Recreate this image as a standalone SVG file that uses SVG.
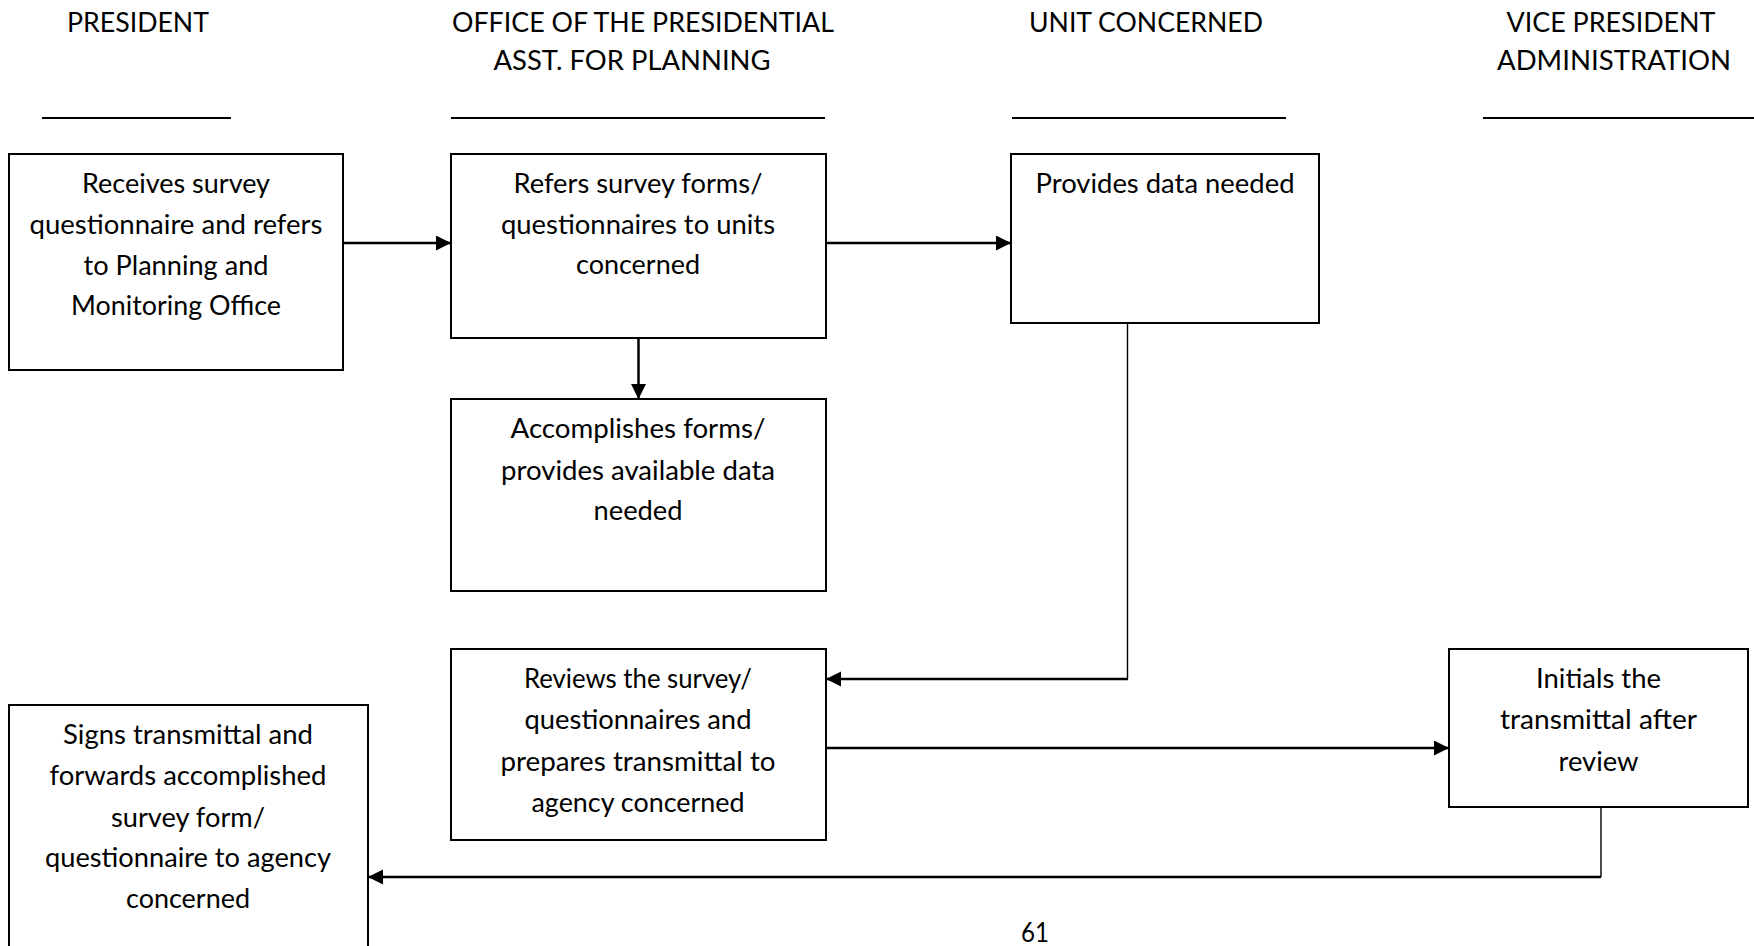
<svg xmlns="http://www.w3.org/2000/svg" width="1754" height="946" viewBox="0 0 1754 946">
  <style>
    .bg { fill: #ffffff; }
    .box { fill: #ffffff; stroke: #000000; stroke-width: 2; }
    .rule { stroke: #000000; stroke-width: 2; }
    .lbl { font-family: "Lato", "Open Sans", sans-serif; font-size: 27px; fill: #000000; text-anchor: middle; }
    .flow { fill: none; stroke: #000000; stroke-width: 2.5; }
    .thin { fill: none; stroke: #000000; stroke-width: 1.4; }
  </style>
  <defs>
    <marker id="arrow" markerUnits="userSpaceOnUse" markerWidth="16" markerHeight="16" refX="15" refY="7.5" orient="auto">
      <path d="M0,0 L15,7.5 L0,15 z" fill="#000000"/>
    </marker>
  </defs>

  <rect class="bg" x="0" y="0" width="1754" height="946"/>

  <!-- column headings -->
  <g id="headers">
    <text class="lbl" x="138" y="32" textLength="142" lengthAdjust="spacingAndGlyphs">PRESIDENT</text>
    <line class="rule" x1="42" y1="118" x2="231" y2="118"/>
    <text class="lbl" x="643" y="32" textLength="382" lengthAdjust="spacingAndGlyphs">OFFICE OF THE PRESIDENTIAL</text>
    <text class="lbl" x="632" y="70" textLength="277" lengthAdjust="spacingAndGlyphs">ASST. FOR PLANNING</text>
    <line class="rule" x1="451" y1="118" x2="825" y2="118"/>
    <text class="lbl" x="1146" y="32" textLength="234" lengthAdjust="spacingAndGlyphs">UNIT CONCERNED</text>
    <line class="rule" x1="1012" y1="118" x2="1286" y2="118"/>
    <text class="lbl" x="1611" y="32" textLength="209" lengthAdjust="spacingAndGlyphs">VICE PRESIDENT</text>
    <text class="lbl" x="1614" y="70" textLength="234" lengthAdjust="spacingAndGlyphs">ADMINISTRATION</text>
    <line class="rule" x1="1483" y1="118" x2="1754" y2="118"/>
  </g>

  <!-- connectors -->
  <g id="connectors">
    <path class="flow" d="M343,243 H451" marker-end="url(#arrow)"/>
    <path class="flow" d="M826,243 H1011" marker-end="url(#arrow)"/>
    <path class="flow" d="M638.5,338 V399" marker-end="url(#arrow)"/>
    <path class="thin" d="M1127.5,323 V679"/>
    <path class="flow" d="M1128,679 H826" marker-end="url(#arrow)"/>
    <path class="flow" d="M826,748 H1449" marker-end="url(#arrow)"/>
    <path class="thin" d="M1601,807 V877"/>
    <path class="flow" d="M1601,877 H368" marker-end="url(#arrow)"/>
  </g>

  <g id="receives">
    <rect class="box" x="9" y="154" width="334" height="216"/>
    <text class="lbl" x="176" y="193" textLength="188" lengthAdjust="spacingAndGlyphs">Receives survey</text>
    <text class="lbl" x="176" y="234" textLength="293" lengthAdjust="spacingAndGlyphs">questionnaire and refers</text>
    <text class="lbl" x="176" y="275" textLength="185" lengthAdjust="spacingAndGlyphs">to Planning and</text>
    <text class="lbl" x="176" y="315" textLength="210" lengthAdjust="spacingAndGlyphs">Monitoring Office</text>
  </g>

  <g id="refers">
    <rect class="box" x="451" y="154" width="375" height="184"/>
    <text class="lbl" x="638" y="193" textLength="249" lengthAdjust="spacingAndGlyphs">Refers survey forms/</text>
    <text class="lbl" x="638" y="234" textLength="274" lengthAdjust="spacingAndGlyphs">questionnaires to units</text>
    <text class="lbl" x="638" y="274" textLength="124" lengthAdjust="spacingAndGlyphs">concerned</text>
  </g>

  <g id="provides">
    <rect class="box" x="1011" y="154" width="308" height="169"/>
    <text class="lbl" x="1165" y="193" textLength="259" lengthAdjust="spacingAndGlyphs">Provides data needed</text>
  </g>

  <g id="accomplishes">
    <rect class="box" x="451" y="399" width="375" height="192"/>
    <text class="lbl" x="638" y="438" textLength="255" lengthAdjust="spacingAndGlyphs">Accomplishes forms/</text>
    <text class="lbl" x="638" y="480" textLength="274" lengthAdjust="spacingAndGlyphs">provides available data</text>
    <text class="lbl" x="638" y="520" textLength="89" lengthAdjust="spacingAndGlyphs">needed</text>
  </g>

  <g id="reviews">
    <rect class="box" x="451" y="649" width="375" height="191"/>
    <text class="lbl" x="638" y="688" textLength="228" lengthAdjust="spacingAndGlyphs">Reviews the survey/</text>
    <text class="lbl" x="638" y="729" textLength="227" lengthAdjust="spacingAndGlyphs">questionnaires and</text>
    <text class="lbl" x="638" y="771" textLength="275" lengthAdjust="spacingAndGlyphs">prepares transmittal to</text>
    <text class="lbl" x="638" y="812" textLength="213" lengthAdjust="spacingAndGlyphs">agency concerned</text>
  </g>

  <g id="initials">
    <rect class="box" x="1449" y="649" width="299" height="158"/>
    <text class="lbl" x="1598.5" y="688" textLength="125" lengthAdjust="spacingAndGlyphs">Initials the</text>
    <text class="lbl" x="1598.5" y="729" textLength="197" lengthAdjust="spacingAndGlyphs">transmittal after</text>
    <text class="lbl" x="1598.5" y="771" textLength="80" lengthAdjust="spacingAndGlyphs">review</text>
  </g>

  <g id="signs">
    <rect class="box" x="9" y="705" width="359" height="260"/>
    <text class="lbl" x="188" y="744" textLength="250" lengthAdjust="spacingAndGlyphs">Signs transmittal and</text>
    <text class="lbl" x="188" y="785" textLength="277" lengthAdjust="spacingAndGlyphs">forwards accomplished</text>
    <text class="lbl" x="188" y="827" textLength="154" lengthAdjust="spacingAndGlyphs">survey form/</text>
    <text class="lbl" x="188" y="867" textLength="286" lengthAdjust="spacingAndGlyphs">questionnaire to agency</text>
    <text class="lbl" x="188" y="908" textLength="124" lengthAdjust="spacingAndGlyphs">concerned</text>
  </g>

  <!-- page number -->
  <text class="lbl" x="1035" y="942" textLength="28" lengthAdjust="spacingAndGlyphs">61</text>
</svg>
